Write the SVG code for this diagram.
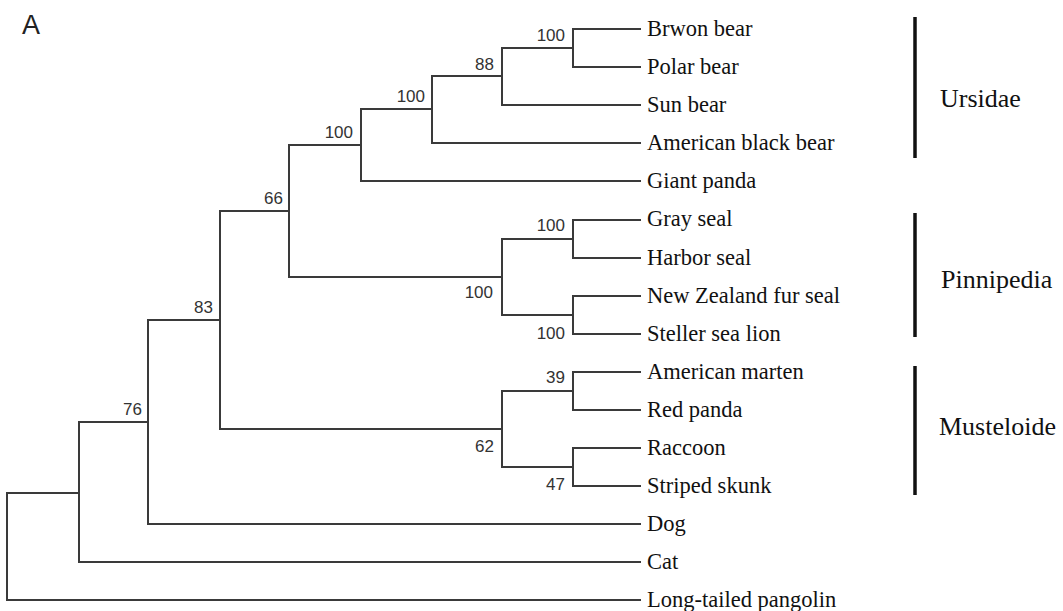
<svg xmlns="http://www.w3.org/2000/svg" width="1063" height="611" viewBox="0 0 1063 611">
<style>
.br{fill:none;stroke:#3a3a3a;stroke-width:2;stroke-linecap:square}
.leaf{font-family:"Liberation Serif","Times New Roman",serif;font-size:22.5px;fill:#111}
.bs{font-family:"Liberation Sans",Arial,sans-serif;font-size:17px;fill:#333;text-anchor:end}
.clade{font-family:"Liberation Serif","Times New Roman",serif;font-size:26px;fill:#111}
.bar{stroke:#111;stroke-width:3.5}
</style>
<rect width="1063" height="611" fill="#fff"/>
<text x="22" y="34" font-family="'Liberation Sans',Arial,sans-serif" font-size="27" fill="#222">A</text>
<g id="connectors" class="br">
<path d="M7,493V600H640M7,493H79"/>
<path d="M79,422V562H640M79,422H148"/>
<path d="M148,320V524H640M148,320H220"/>
<path d="M220,211V429H502M220,211H289"/>
<path d="M289,145V277H502M289,145H361"/>
<path d="M361,109V181H640M361,109H432"/>
<path d="M432,76V143H640M432,76H502"/>
<path d="M502,48V105H640M502,48H573"/>
<path d="M573,29V67H640M573,29H640"/>
<path d="M502,239V315H573M502,239H573"/>
<path d="M573,220V258H640M573,220H640"/>
<path d="M573,296V334H640M573,296H640"/>
<path d="M502,391V467H573M502,391H573"/>
<path d="M573,372V410H640M573,372H640"/>
<path d="M573,448V486H640M573,448H640"/>
</g>
<g id="n-brown-polar"><text class="bs" x="565" y="41">100</text></g>
<g id="n-88"><text class="bs" x="494" y="70">88</text></g>
<g id="n-bears"><text class="bs" x="425" y="102">100</text></g>
<g id="n-ursidae-panda"><text class="bs" x="353" y="138">100</text></g>
<g id="n-66"><text class="bs" x="283" y="204">66</text></g>
<g id="n-83"><text class="bs" x="213" y="313">83</text></g>
<g id="n-76"><text class="bs" x="142" y="415">76</text></g>
<g id="n-seals"><text class="bs" x="565" y="231">100</text></g>
<g id="n-pinnipedia"><text class="bs" x="493" y="298">100</text></g>
<g id="n-furseal-sealion"><text class="bs" x="565" y="339">100</text></g>
<g id="n-39"><text class="bs" x="565" y="383">39</text></g>
<g id="n-62"><text class="bs" x="494" y="452">62</text></g>
<g id="n-47"><text class="bs" x="565" y="490">47</text></g>
<g id="leaf-brown-bear"><text class="leaf" x="647" y="36">Brwon bear</text></g>
<g id="leaf-polar-bear"><text class="leaf" x="647" y="74">Polar bear</text></g>
<g id="leaf-sun-bear"><text class="leaf" x="647" y="112">Sun bear</text></g>
<g id="leaf-american-black-bear"><text class="leaf" x="647" y="150">American black bear</text></g>
<g id="leaf-giant-panda"><text class="leaf" x="647" y="188">Giant panda</text></g>
<g id="leaf-gray-seal"><text class="leaf" x="647" y="226">Gray seal</text></g>
<g id="leaf-harbor-seal"><text class="leaf" x="647" y="265">Harbor seal</text></g>
<g id="leaf-nz-fur-seal"><text class="leaf" x="647" y="303">New Zealand fur seal</text></g>
<g id="leaf-steller-sea-lion"><text class="leaf" x="647" y="341">Steller sea lion</text></g>
<g id="leaf-american-marten"><text class="leaf" x="647" y="379">American marten</text></g>
<g id="leaf-red-panda"><text class="leaf" x="647" y="417">Red panda</text></g>
<g id="leaf-raccoon"><text class="leaf" x="647" y="455">Raccoon</text></g>
<g id="leaf-striped-skunk"><text class="leaf" x="647" y="493">Striped skunk</text></g>
<g id="leaf-dog"><text class="leaf" x="647" y="531">Dog</text></g>
<g id="leaf-cat"><text class="leaf" x="647" y="569">Cat</text></g>
<g id="leaf-pangolin"><text class="leaf" x="647" y="607">Long-tailed pangolin</text></g>
<g id="clade-ursidae"><line class="bar" x1="915" y1="17" x2="915" y2="158"/><text class="clade" x="940" y="107">Ursidae</text></g>
<g id="clade-pinnipedia"><line class="bar" x1="915" y1="213" x2="915" y2="337"/><text class="clade" x="941" y="288">Pinnipedia</text></g>
<g id="clade-musteloide"><line class="bar" x1="915" y1="366" x2="915" y2="495"/><text class="clade" x="939" y="435">Musteloide</text></g>
</svg>
